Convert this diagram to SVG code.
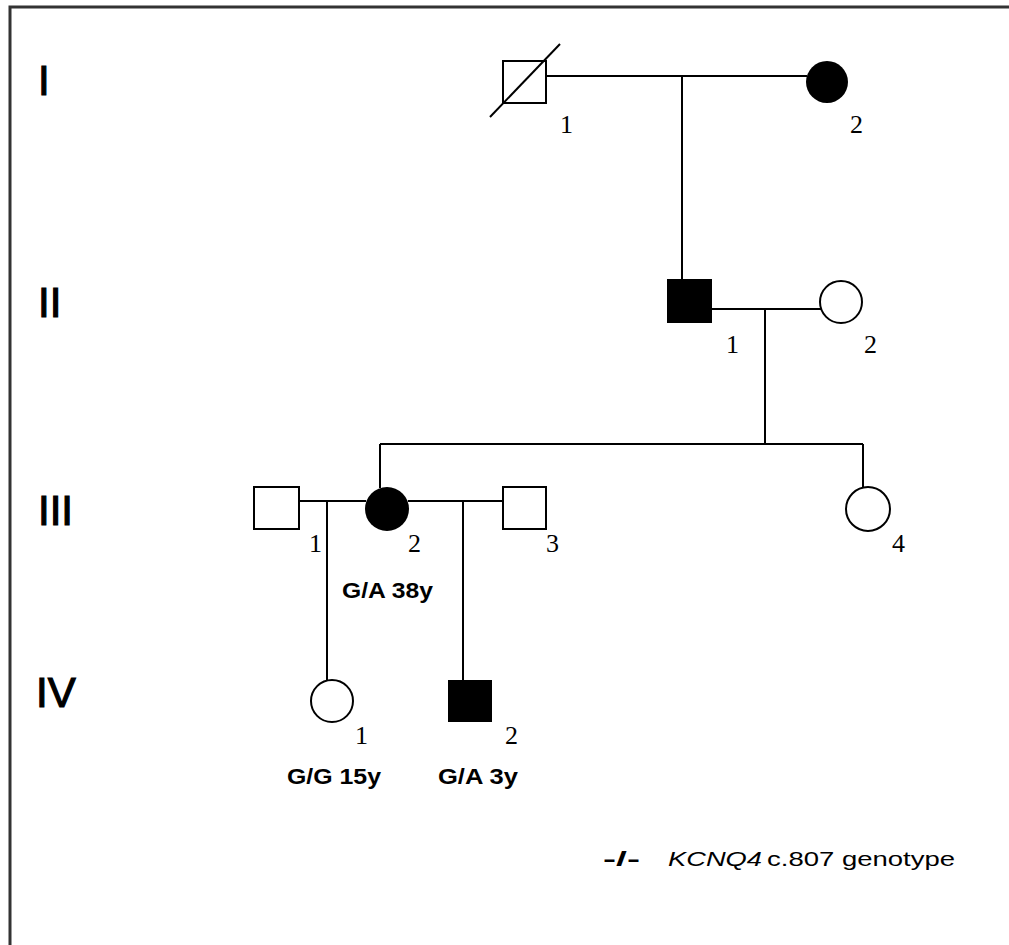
<svg xmlns="http://www.w3.org/2000/svg" width="1009" height="945" viewBox="0 0 1009 945">
<style>
.sym{stroke:#000;stroke-width:2;fill:#fff}
.aff{fill:#000}
.ln{stroke:#000;stroke-width:2;fill:none}
.gen{font-family:"Liberation Sans",Arial,sans-serif;font-size:42px;fill:#000;stroke:#000;stroke-width:1.2}
.num{font-family:"Liberation Serif","Times New Roman",serif;font-size:26px;fill:#000}
.gt{font-family:"Liberation Sans",Arial,sans-serif;font-size:22px;font-weight:bold;fill:#000}
.lg{font-family:"Liberation Sans",Arial,sans-serif;font-size:20px;fill:#000}
</style>
<rect width="1009" height="945" fill="#fff"/>
<path d="M10,945 V7 H1009" fill="none" stroke="#333" stroke-width="3"/>
<g id="generations">
<text class="gen" x="38" y="95">I</text>
<text class="gen" x="38" y="317">II</text>
<text class="gen" x="38" y="525">III</text>
<text class="gen" x="36" y="707">IV</text>
</g>
<g id="connectors">
<line class="ln" x1="546" y1="76" x2="807" y2="76"/>
<line class="ln" x1="682" y1="76" x2="682" y2="279"/>
<line class="ln" x1="712" y1="309" x2="821" y2="309"/>
<line class="ln" x1="765" y1="309" x2="765" y2="444"/>
<line class="ln" x1="380" y1="444" x2="863" y2="444"/>
<line class="ln" x1="380" y1="444" x2="380" y2="488"/>
<line class="ln" x1="863" y1="444" x2="863" y2="488"/>
<line class="ln" x1="299" y1="501" x2="366" y2="501"/>
<line class="ln" x1="408" y1="501" x2="503" y2="501"/>
<line class="ln" x1="327" y1="501" x2="327" y2="680"/>
<line class="ln" x1="463" y1="501" x2="463" y2="680"/>
</g>
<g id="I-1">
<rect class="sym" x="503" y="61" width="43" height="42"/>
<line class="ln" x1="490" y1="117" x2="560" y2="44"/>
<text class="num" x="560" y="133">1</text>
</g>
<g id="I-2">
<circle class="aff" cx="827" cy="82" r="21"/>
<text class="num" x="850" y="133">2</text>
</g>
<g id="II-1">
<rect class="aff" x="667" y="279" width="45" height="44"/>
<text class="num" x="726" y="353">1</text>
</g>
<g id="II-2">
<circle class="sym" cx="841" cy="302" r="21"/>
<text class="num" x="864" y="353">2</text>
</g>
<g id="III-1">
<rect class="sym" x="254" y="487" width="45" height="42"/>
<text class="num" x="309" y="552">1</text>
</g>
<g id="III-2">
<circle class="aff" cx="387" cy="509" r="22"/>
<text class="num" x="408" y="552">2</text>
<text class="gt" x="342" y="598" textLength="91" lengthAdjust="spacingAndGlyphs">G/A 38y</text>
</g>
<g id="III-3">
<rect class="sym" x="503" y="487" width="43" height="42"/>
<text class="num" x="546" y="552">3</text>
</g>
<g id="III-4">
<circle class="sym" cx="868" cy="509" r="22"/>
<text class="num" x="892" y="552">4</text>
</g>
<g id="IV-1">
<circle class="sym" cx="332" cy="701" r="21"/>
<text class="num" x="355" y="744">1</text>
<text class="gt" x="287" y="784" textLength="94" lengthAdjust="spacingAndGlyphs">G/G 15y</text>
</g>
<g id="IV-2">
<rect class="aff" x="448" y="680" width="44" height="42"/>
<text class="num" x="505" y="744">2</text>
<text class="gt" x="438" y="784" textLength="80" lengthAdjust="spacingAndGlyphs">G/A 3y</text>
</g>
<g id="legend">
<text class="lg" x="603" y="866" font-size="24" font-weight="bold" textLength="37" lengthAdjust="spacingAndGlyphs">-/-</text>
<text class="lg" x="668" y="866" font-style="italic" textLength="94" lengthAdjust="spacingAndGlyphs">KCNQ4</text>
<text class="lg" x="767" y="866" textLength="188" lengthAdjust="spacingAndGlyphs">c.807 genotype</text>
</g>
</svg>
